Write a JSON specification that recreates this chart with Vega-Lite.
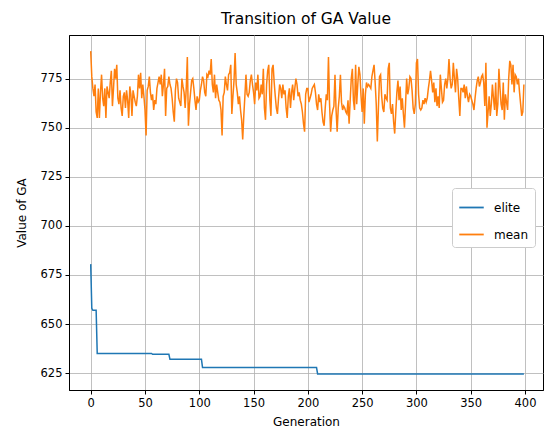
{
  "$schema": "https://vega.github.io/schema/vega-lite/v6.json",
  "width": 474,
  "height": 355,
  "autosize": {"type": "none"},
  "padding": {"left": 69, "top": 35, "right": 2, "bottom": 40},
  "background": "white",
  "config": {
    "font": "DejaVu Sans",
    "view": {"stroke": "black", "strokeWidth": 1}
  },
  "title": {"text": "Transition of GA Value", "fontSize": 15.5, "fontWeight": "normal", "color": "black", "offset": 8, "anchor": "middle"},
  "datasets": {
    "ga": [
{"g":0,"elite":680.5,"mean":789},{"g":1,"elite":658,"mean":776},{"g":2,"elite":657,"mean":770},{"g":3,"elite":657,"mean":766},{"g":4,"elite":657,"mean":772},{"g":5,"elite":657,"mean":758},{"g":6,"elite":635,"mean":755},{"g":7,"elite":635,"mean":770},{"g":8,"elite":635,"mean":755},{"g":9,"elite":635,"mean":768},
{"g":10,"elite":635,"mean":777},{"g":11,"elite":635,"mean":765},{"g":12,"elite":635,"mean":761},{"g":13,"elite":635,"mean":770},{"g":14,"elite":635,"mean":755},{"g":15,"elite":635,"mean":771},{"g":16,"elite":635,"mean":768},{"g":17,"elite":635,"mean":765},{"g":18,"elite":635,"mean":773},{"g":19,"elite":635,"mean":779},
{"g":20,"elite":635,"mean":761},{"g":21,"elite":635,"mean":770},{"g":22,"elite":635,"mean":780},{"g":23,"elite":635,"mean":775},{"g":24,"elite":635,"mean":782},{"g":25,"elite":635,"mean":765},{"g":26,"elite":635,"mean":762},{"g":27,"elite":635,"mean":769},{"g":28,"elite":635,"mean":760},{"g":29,"elite":635,"mean":756},
{"g":30,"elite":635,"mean":766},{"g":31,"elite":635,"mean":768},{"g":32,"elite":635,"mean":760},{"g":33,"elite":635,"mean":769},{"g":34,"elite":635,"mean":764},{"g":35,"elite":635,"mean":755},{"g":36,"elite":635,"mean":771},{"g":37,"elite":635,"mean":767},{"g":38,"elite":635,"mean":756},{"g":39,"elite":635,"mean":769},
{"g":40,"elite":635,"mean":766},{"g":41,"elite":635,"mean":763},{"g":42,"elite":635,"mean":761},{"g":43,"elite":635,"mean":766},{"g":44,"elite":635,"mean":777},{"g":45,"elite":635,"mean":770},{"g":46,"elite":635,"mean":778},{"g":47,"elite":635,"mean":765},{"g":48,"elite":635,"mean":772},{"g":49,"elite":635,"mean":766},
{"g":50,"elite":635,"mean":759},{"g":51,"elite":635,"mean":746},{"g":52,"elite":635,"mean":769},{"g":53,"elite":635,"mean":771},{"g":54,"elite":635,"mean":776},{"g":55,"elite":635,"mean":768},{"g":56,"elite":635,"mean":764},{"g":57,"elite":634.6,"mean":767},{"g":58,"elite":634.6,"mean":759},{"g":59,"elite":634.6,"mean":764},
{"g":60,"elite":634.6,"mean":762},{"g":61,"elite":634.6,"mean":770},{"g":62,"elite":634.6,"mean":773},{"g":63,"elite":634.6,"mean":776},{"g":64,"elite":634.6,"mean":772},{"g":65,"elite":634.6,"mean":777},{"g":66,"elite":634.6,"mean":766},{"g":67,"elite":634.6,"mean":772},{"g":68,"elite":634.6,"mean":780},{"g":69,"elite":634.6,"mean":756},
{"g":70,"elite":634.6,"mean":770},{"g":71,"elite":634.6,"mean":771},{"g":72,"elite":634.6,"mean":776},{"g":73,"elite":632,"mean":772},{"g":74,"elite":632,"mean":770},{"g":75,"elite":632,"mean":765},{"g":76,"elite":632,"mean":758},{"g":77,"elite":632,"mean":753},{"g":78,"elite":632,"mean":769},{"g":79,"elite":632,"mean":775},
{"g":80,"elite":632,"mean":773},{"g":81,"elite":632,"mean":765},{"g":82,"elite":632,"mean":763},{"g":83,"elite":632,"mean":761},{"g":84,"elite":632,"mean":775},{"g":85,"elite":632,"mean":771},{"g":86,"elite":632,"mean":768},{"g":87,"elite":632,"mean":760},{"g":88,"elite":632,"mean":770},{"g":89,"elite":632,"mean":786},
{"g":90,"elite":632,"mean":751},{"g":91,"elite":632,"mean":762},{"g":92,"elite":632,"mean":768},{"g":93,"elite":632,"mean":774},{"g":94,"elite":632,"mean":775},{"g":95,"elite":632,"mean":770},{"g":96,"elite":632,"mean":764},{"g":97,"elite":632,"mean":759},{"g":98,"elite":632,"mean":766},{"g":99,"elite":632,"mean":763},
{"g":100,"elite":632,"mean":764},{"g":101,"elite":632,"mean":769},{"g":102,"elite":632,"mean":772},{"g":103,"elite":627.8,"mean":776},{"g":104,"elite":627.8,"mean":774},{"g":105,"elite":627.8,"mean":768},{"g":106,"elite":627.8,"mean":766},{"g":107,"elite":627.8,"mean":777},{"g":108,"elite":627.8,"mean":776},{"g":109,"elite":627.8,"mean":779},
{"g":110,"elite":627.8,"mean":777},{"g":111,"elite":627.8,"mean":785},{"g":112,"elite":627.8,"mean":772},{"g":113,"elite":627.8,"mean":768},{"g":114,"elite":627.8,"mean":777},{"g":115,"elite":627.8,"mean":765},{"g":116,"elite":627.8,"mean":772},{"g":117,"elite":627.8,"mean":768},{"g":118,"elite":627.8,"mean":764},{"g":119,"elite":627.8,"mean":763},
{"g":120,"elite":627.8,"mean":759},{"g":121,"elite":627.8,"mean":746},{"g":122,"elite":627.8,"mean":766},{"g":123,"elite":627.8,"mean":768},{"g":124,"elite":627.8,"mean":776},{"g":125,"elite":627.8,"mean":772},{"g":126,"elite":627.8,"mean":769},{"g":127,"elite":627.8,"mean":777},{"g":128,"elite":627.8,"mean":778},{"g":129,"elite":627.8,"mean":782},
{"g":130,"elite":627.8,"mean":757},{"g":131,"elite":627.8,"mean":766},{"g":132,"elite":627.8,"mean":774},{"g":133,"elite":627.8,"mean":788},{"g":134,"elite":627.8,"mean":772},{"g":135,"elite":627.8,"mean":768},{"g":136,"elite":627.8,"mean":762},{"g":137,"elite":627.8,"mean":766},{"g":138,"elite":627.8,"mean":759},{"g":139,"elite":627.8,"mean":754},
{"g":140,"elite":627.8,"mean":744},{"g":141,"elite":627.8,"mean":756},{"g":142,"elite":627.8,"mean":766},{"g":143,"elite":627.8,"mean":777},{"g":144,"elite":627.8,"mean":767},{"g":145,"elite":627.8,"mean":766},{"g":146,"elite":627.8,"mean":768},{"g":147,"elite":627.8,"mean":774},{"g":148,"elite":627.8,"mean":777},{"g":149,"elite":627.8,"mean":772},
{"g":150,"elite":627.8,"mean":768},{"g":151,"elite":627.8,"mean":762},{"g":152,"elite":627.8,"mean":773},{"g":153,"elite":627.8,"mean":769},{"g":154,"elite":627.8,"mean":777},{"g":155,"elite":627.8,"mean":765},{"g":156,"elite":627.8,"mean":766},{"g":157,"elite":627.8,"mean":772},{"g":158,"elite":627.8,"mean":767},{"g":159,"elite":627.8,"mean":780},
{"g":160,"elite":627.8,"mean":760},{"g":161,"elite":627.8,"mean":754},{"g":162,"elite":627.8,"mean":772},{"g":163,"elite":627.8,"mean":779},{"g":164,"elite":627.8,"mean":782},{"g":165,"elite":627.8,"mean":764},{"g":166,"elite":627.8,"mean":756},{"g":167,"elite":627.8,"mean":780},{"g":168,"elite":627.8,"mean":782},{"g":169,"elite":627.8,"mean":773},
{"g":170,"elite":627.8,"mean":766},{"g":171,"elite":627.8,"mean":760},{"g":172,"elite":627.8,"mean":757},{"g":173,"elite":627.8,"mean":765},{"g":174,"elite":627.8,"mean":772},{"g":175,"elite":627.8,"mean":770},{"g":176,"elite":627.8,"mean":765},{"g":177,"elite":627.8,"mean":772},{"g":178,"elite":627.8,"mean":767},{"g":179,"elite":627.8,"mean":769},
{"g":180,"elite":627.8,"mean":760},{"g":181,"elite":627.8,"mean":755},{"g":182,"elite":627.8,"mean":766},{"g":183,"elite":627.8,"mean":770},{"g":184,"elite":627.8,"mean":760},{"g":185,"elite":627.8,"mean":768},{"g":186,"elite":627.8,"mean":772},{"g":187,"elite":627.8,"mean":764},{"g":188,"elite":627.8,"mean":770},{"g":189,"elite":627.8,"mean":775},
{"g":190,"elite":627.8,"mean":772},{"g":191,"elite":627.8,"mean":766},{"g":192,"elite":627.8,"mean":768},{"g":193,"elite":627.8,"mean":764},{"g":194,"elite":627.8,"mean":762},{"g":195,"elite":627.8,"mean":758},{"g":196,"elite":627.8,"mean":752},{"g":197,"elite":627.8,"mean":748},{"g":198,"elite":627.8,"mean":767},{"g":199,"elite":627.8,"mean":770},
{"g":200,"elite":627.8,"mean":770},{"g":201,"elite":627.8,"mean":763},{"g":202,"elite":627.8,"mean":765},{"g":203,"elite":627.8,"mean":767},{"g":204,"elite":627.8,"mean":770},{"g":205,"elite":627.8,"mean":771},{"g":206,"elite":627.8,"mean":772},{"g":207,"elite":627.8,"mean":768},{"g":208,"elite":627.8,"mean":762},{"g":209,"elite":624.6,"mean":759},
{"g":210,"elite":624.6,"mean":767},{"g":211,"elite":624.6,"mean":763},{"g":212,"elite":624.6,"mean":765},{"g":213,"elite":624.6,"mean":758},{"g":214,"elite":624.6,"mean":753},{"g":215,"elite":624.6,"mean":751},{"g":216,"elite":624.6,"mean":760},{"g":217,"elite":624.6,"mean":767},{"g":218,"elite":624.6,"mean":764},{"g":219,"elite":624.6,"mean":786},
{"g":220,"elite":624.6,"mean":762},{"g":221,"elite":624.6,"mean":748},{"g":222,"elite":624.6,"mean":756},{"g":223,"elite":624.6,"mean":759},{"g":224,"elite":624.6,"mean":761},{"g":225,"elite":624.6,"mean":777},{"g":226,"elite":624.6,"mean":759},{"g":227,"elite":624.6,"mean":748},{"g":228,"elite":624.6,"mean":760},{"g":229,"elite":624.6,"mean":766},
{"g":230,"elite":624.6,"mean":777},{"g":231,"elite":624.6,"mean":763},{"g":232,"elite":624.6,"mean":759},{"g":233,"elite":624.6,"mean":761},{"g":234,"elite":624.6,"mean":760},{"g":235,"elite":624.6,"mean":758},{"g":236,"elite":624.6,"mean":757},{"g":237,"elite":624.6,"mean":764},{"g":238,"elite":624.6,"mean":752},{"g":239,"elite":624.6,"mean":764},
{"g":240,"elite":624.6,"mean":775},{"g":241,"elite":624.6,"mean":780},{"g":242,"elite":624.6,"mean":764},{"g":243,"elite":624.6,"mean":759},{"g":244,"elite":624.6,"mean":782},{"g":245,"elite":624.6,"mean":762},{"g":246,"elite":624.6,"mean":772},{"g":247,"elite":624.6,"mean":781},{"g":248,"elite":624.6,"mean":777},{"g":249,"elite":624.6,"mean":766},
{"g":250,"elite":624.6,"mean":758},{"g":251,"elite":624.6,"mean":770},{"g":252,"elite":624.6,"mean":752},{"g":253,"elite":624.6,"mean":767},{"g":254,"elite":624.6,"mean":773},{"g":255,"elite":624.6,"mean":771},{"g":256,"elite":624.6,"mean":772},{"g":257,"elite":624.6,"mean":771},{"g":258,"elite":624.6,"mean":770},{"g":259,"elite":624.6,"mean":776},
{"g":260,"elite":624.6,"mean":779},{"g":261,"elite":624.6,"mean":782},{"g":262,"elite":624.6,"mean":773},{"g":263,"elite":624.6,"mean":762},{"g":264,"elite":624.6,"mean":743},{"g":265,"elite":624.6,"mean":760},{"g":266,"elite":624.6,"mean":776},{"g":267,"elite":624.6,"mean":777},{"g":268,"elite":624.6,"mean":766},{"g":269,"elite":624.6,"mean":760},
{"g":270,"elite":624.6,"mean":758},{"g":271,"elite":624.6,"mean":767},{"g":272,"elite":624.6,"mean":765},{"g":273,"elite":624.6,"mean":764},{"g":274,"elite":624.6,"mean":780},{"g":275,"elite":624.6,"mean":783},{"g":276,"elite":624.6,"mean":760},{"g":277,"elite":624.6,"mean":757},{"g":278,"elite":624.6,"mean":762},{"g":279,"elite":624.6,"mean":753},
{"g":280,"elite":624.6,"mean":747},{"g":281,"elite":624.6,"mean":758},{"g":282,"elite":624.6,"mean":768},{"g":283,"elite":624.6,"mean":774},{"g":284,"elite":624.6,"mean":764},{"g":285,"elite":624.6,"mean":771},{"g":286,"elite":624.6,"mean":759},{"g":287,"elite":624.6,"mean":765},{"g":288,"elite":624.6,"mean":757},{"g":289,"elite":624.6,"mean":750},
{"g":290,"elite":624.6,"mean":762},{"g":291,"elite":624.6,"mean":775},{"g":292,"elite":624.6,"mean":767},{"g":293,"elite":624.6,"mean":770},{"g":294,"elite":624.6,"mean":776},{"g":295,"elite":624.6,"mean":775},{"g":296,"elite":624.6,"mean":769},{"g":297,"elite":624.6,"mean":760},{"g":298,"elite":624.6,"mean":757},{"g":299,"elite":624.6,"mean":762},
{"g":300,"elite":624.6,"mean":783},{"g":301,"elite":624.6,"mean":785},{"g":302,"elite":624.6,"mean":767},{"g":303,"elite":624.6,"mean":760},{"g":304,"elite":624.6,"mean":759},{"g":305,"elite":624.6,"mean":760},{"g":306,"elite":624.6,"mean":764},{"g":307,"elite":624.6,"mean":762},{"g":308,"elite":624.6,"mean":765},{"g":309,"elite":624.6,"mean":763},
{"g":310,"elite":624.6,"mean":765},{"g":311,"elite":624.6,"mean":770},{"g":312,"elite":624.6,"mean":774},{"g":313,"elite":624.6,"mean":779},{"g":314,"elite":624.6,"mean":774},{"g":315,"elite":624.6,"mean":768},{"g":316,"elite":624.6,"mean":773},{"g":317,"elite":624.6,"mean":763},{"g":318,"elite":624.6,"mean":770},{"g":319,"elite":624.6,"mean":761},
{"g":320,"elite":624.6,"mean":766},{"g":321,"elite":624.6,"mean":760},{"g":322,"elite":624.6,"mean":777},{"g":323,"elite":624.6,"mean":770},{"g":324,"elite":624.6,"mean":763},{"g":325,"elite":624.6,"mean":764},{"g":326,"elite":624.6,"mean":772},{"g":327,"elite":624.6,"mean":775},{"g":328,"elite":624.6,"mean":770},{"g":329,"elite":624.6,"mean":775},
{"g":330,"elite":624.6,"mean":785},{"g":331,"elite":624.6,"mean":775},{"g":332,"elite":624.6,"mean":770},{"g":333,"elite":624.6,"mean":772},{"g":334,"elite":624.6,"mean":783},{"g":335,"elite":624.6,"mean":775},{"g":336,"elite":624.6,"mean":768},{"g":337,"elite":624.6,"mean":780},{"g":338,"elite":624.6,"mean":775},{"g":339,"elite":624.6,"mean":765},
{"g":340,"elite":624.6,"mean":756},{"g":341,"elite":624.6,"mean":770},{"g":342,"elite":624.6,"mean":770},{"g":343,"elite":624.6,"mean":768},{"g":344,"elite":624.6,"mean":772},{"g":345,"elite":624.6,"mean":765},{"g":346,"elite":624.6,"mean":771},{"g":347,"elite":624.6,"mean":766},{"g":348,"elite":624.6,"mean":763},{"g":349,"elite":624.6,"mean":767},
{"g":350,"elite":624.6,"mean":766},{"g":351,"elite":624.6,"mean":764},{"g":352,"elite":624.6,"mean":762},{"g":353,"elite":624.6,"mean":759},{"g":354,"elite":624.6,"mean":765},{"g":355,"elite":624.6,"mean":770},{"g":356,"elite":624.6,"mean":774},{"g":357,"elite":624.6,"mean":776},{"g":358,"elite":624.6,"mean":771},{"g":359,"elite":624.6,"mean":773},
{"g":360,"elite":624.6,"mean":776},{"g":361,"elite":624.6,"mean":777},{"g":362,"elite":624.6,"mean":773},{"g":363,"elite":624.6,"mean":761},{"g":364,"elite":624.6,"mean":783},{"g":365,"elite":624.6,"mean":750},{"g":366,"elite":624.6,"mean":758},{"g":367,"elite":624.6,"mean":766},{"g":368,"elite":624.6,"mean":756},{"g":369,"elite":624.6,"mean":762},
{"g":370,"elite":624.6,"mean":772},{"g":371,"elite":624.6,"mean":765},{"g":372,"elite":624.6,"mean":759},{"g":373,"elite":624.6,"mean":773},{"g":374,"elite":624.6,"mean":756},{"g":375,"elite":624.6,"mean":762},{"g":376,"elite":624.6,"mean":780},{"g":377,"elite":624.6,"mean":770},{"g":378,"elite":624.6,"mean":762},{"g":379,"elite":624.6,"mean":759},
{"g":380,"elite":624.6,"mean":773},{"g":381,"elite":624.6,"mean":754},{"g":382,"elite":624.6,"mean":767},{"g":383,"elite":624.6,"mean":763},{"g":384,"elite":624.6,"mean":759},{"g":385,"elite":624.6,"mean":775},{"g":386,"elite":624.6,"mean":784},{"g":387,"elite":624.6,"mean":782},{"g":388,"elite":624.6,"mean":772},{"g":389,"elite":624.6,"mean":782},
{"g":390,"elite":624.6,"mean":768},{"g":391,"elite":624.6,"mean":777},{"g":392,"elite":624.6,"mean":776},{"g":393,"elite":624.6,"mean":772},{"g":394,"elite":624.6,"mean":775},{"g":395,"elite":624.6,"mean":768},{"g":396,"elite":624.6,"mean":762},{"g":397,"elite":624.6,"mean":756},{"g":398,"elite":624.6,"mean":758},{"g":399,"elite":624.6,"mean":772}
    ]
  },
  "data": {"name": "ga"},
  "transform": [{"fold": ["elite", "mean"], "as": ["series", "value"]}],
  "mark": {"type": "line", "strokeWidth": 1.5, "clip": true},
  "encoding": {
    "x": {
      "field": "g", "type": "quantitative",
      "scale": {"domain": [-20, 416.6], "nice": false, "zero": false},
      "axis": {
        "title": "Generation", "titleFont": "DejaVu Sans", "titleFontSize": 12, "titleFontWeight": "normal", "titleColor": "black", "titlePadding": 8,
        "values": [0, 50, 100, 150, 200, 250, 300, 350, 400],
        "labelFontSize": 11.5, "labelColor": "black", "labelPadding": 3,
        "tickColor": "black", "tickSize": 4, "domainColor": "black",
        "grid": true, "gridColor": "#b0b0b0", "gridWidth": 1, "gridOpacity": 0.8
      }
    },
    "y": {
      "field": "value", "type": "quantitative",
      "scale": {"domain": [616.4, 797.2], "nice": false, "zero": false},
      "axis": {
        "title": "Value of GA", "titleFont": "DejaVu Sans", "titleFontSize": 12, "titleFontWeight": "normal", "titleColor": "black", "titlePadding": 12,
        "values": [625, 650, 675, 700, 725, 750, 775],
        "labelFontSize": 11.5, "labelColor": "black", "labelPadding": 3,
        "tickColor": "black", "tickSize": 4, "domainColor": "black",
        "grid": true, "gridColor": "#b0b0b0", "gridWidth": 1, "gridOpacity": 0.8
      }
    },
    "color": {
      "field": "series", "type": "nominal",
      "scale": {"domain": ["elite", "mean"], "range": ["#1f77b4", "#ff7f0e"]},
      "legend": {
        "title": null, "orient": "none", "legendX": 383, "legendY": 153,
        "symbolType": "stroke", "symbolSize": 600, "symbolStrokeWidth": 1.8,
        "labelFontSize": 12, "labelColor": "black", "labelFont": "DejaVu Sans", "labelOffset": 9,
        "rowPadding": 7, "padding": 6,
        "fillColor": "white", "strokeColor": "#cccccc", "cornerRadius": 3
      }
    }
  }
}
